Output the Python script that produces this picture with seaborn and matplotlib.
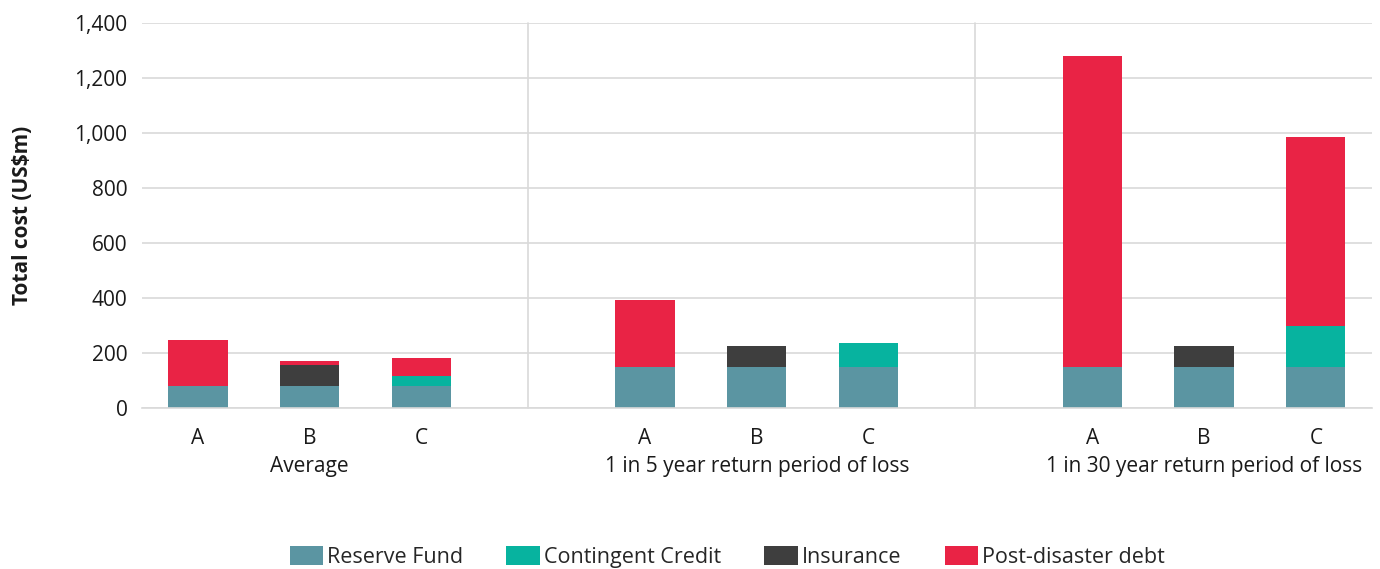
import numpy as np
import pandas as pd
import matplotlib
matplotlib.use("Agg")
import matplotlib.pyplot as plt
from matplotlib.patches import Patch
import seaborn as sns

# ---- data ----
groups = ["Average", "1 in 5 year return period of loss", "1 in 30 year return period of loss"]
options = ["A", "B", "C"]
series = ["Reserve Fund", "Contingent Credit", "Insurance", "Post-disaster debt"]
reserve_fund = [82, 82, 82, 150, 150, 150, 150, 150, 150]
contingent_credit = [0, 0, 36, 0, 0, 87, 0, 0, 150]
insurance = [0, 75, 0, 0, 76, 0, 0, 76, 0]
post_disaster_debt = [165, 14, 64, 242, 0, 0, 1131, 0, 685]
y_ticks = [0, 200, 400, 600, 800, 1000, 1200, 1400]

colors = ["#5B95A2", "#07B39F", "#3E3E3E", "#E92345"]

sns.set_theme(style="white")
plt.rcParams["font.family"] = ["Open Sans", "DejaVu Sans"]

# build slot order with blank gaps between groups
slots = []
order = []
for gi, g in enumerate(groups):
    for o in options:
        slots.append(f"{g}|{o}")
        order.append(f"{g}|{o}")
    if gi < len(groups) - 1:
        order.append(f"gap{gi}")

layers = np.array([reserve_fund, contingent_credit, insurance, post_disaster_debt], dtype=float)
cum = np.cumsum(layers, axis=0)

fig = plt.figure(figsize=(13.8, 5.69), dpi=100)
ax = fig.add_axes([0.1029, 0.2824, 0.994 - 0.1029, 0.960 - 0.2824])

for li in range(len(series) - 1, -1, -1):
    df = pd.DataFrame({"slot": slots, "value": cum[li]})
    sns.barplot(data=df, x="slot", y="value", order=order, color=colors[li],
                width=0.53, saturation=1, ax=ax, linewidth=0, errorbar=None)

ax.set_xlim(-0.5, len(order) - 0.5)
ax.set_ylim(0, 1400)
ax.set_yticks(y_ticks)
ax.set_yticklabels([f"{v:,}" for v in y_ticks], fontsize=15, color="#1a1a1a")
ax.yaxis.grid(True, color="#d9d9d9", linewidth=1.2)
ax.set_axisbelow(True)
for s in ["top", "right", "left"]:
    ax.spines[s].set_visible(False)
ax.spines["bottom"].set_color("#d9d9d9")
ax.spines["bottom"].set_linewidth(1.2)
ax.tick_params(axis="both", length=0)
ax.tick_params(axis="y", pad=10.5)
ax.tick_params(axis="x", pad=14)

xt_labels = [s.split("|")[1] if "|" in s else "" for s in order]
ax.set_xticks(range(len(order)))
ax.set_xticklabels(xt_labels, fontsize=15, color="#1a1a1a")
ax.set_xlabel("")
ax.set_ylabel("Total cost (US$m)", fontsize=15, fontweight="bold", labelpad=30, color="#1a1a1a")

# group separators and labels
trans = ax.get_xaxis_transform()
for gi in range(len(groups) - 1):
    xsep = (gi + 1) * 4 - 1.05
    ax.plot([xsep, xsep], [0, 1], transform=trans, color="#d9d9d9", linewidth=1.2, clip_on=False, zorder=0)
for gi, g in enumerate(groups):
    xc = gi * 4 + 1
    ax.text(xc, -0.152, g, transform=trans, ha="center", va="center", fontsize=15, color="#1a1a1a")

handles = [Patch(facecolor=c, edgecolor="none") for c in colors]
fig.legend(handles, series, loc="center", bbox_to_anchor=(0.527, 0.021), ncol=4, frameon=False,
           fontsize=15.5, handlelength=1.55, handleheight=1.0, handletextpad=0.2, columnspacing=2.0)

fig.savefig("out.png", dpi=100)
